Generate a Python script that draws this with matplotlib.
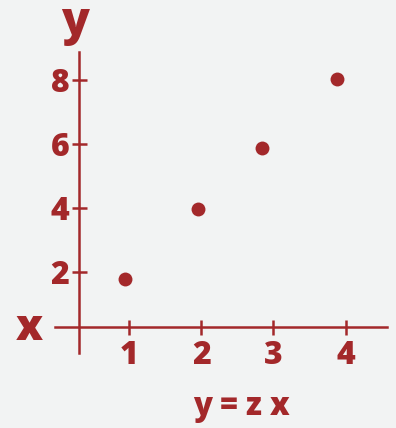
import matplotlib
matplotlib.use("Agg")
import matplotlib.pyplot as plt

# ---- data ----
x_vals = [0.95, 1.96, 2.84, 3.885]
y_vals = [1.79, 3.98, 5.88, 8.05]
x_ticks = [1, 2, 3, 4]
x_tick_labels = ["1", "2", "3", "4"]
y_ticks = [2, 4, 6, 8]
y_tick_labels = ["2", "4", "6", "8"]
x_label = "x"
y_label = "y"
caption = "y = z x"

RED = "#a3282a"
BG = "#f2f3f3"
W, H = 396, 428
WEIGHT = 800

plt.rcParams['font.family'] = ['Open Sans', 'DejaVu Sans']

fig = plt.figure(figsize=(W / 100, H / 100), dpi=100)
fig.patch.set_facecolor(BG)

# axes box in pixel coords
left_px, right_px, top_px, bottom_px = 55, 387, 52, 353
ax = fig.add_axes([left_px / W, 1 - bottom_px / H,
                   (right_px - left_px) / W, (bottom_px - top_px) / H])
ax.set_facecolor("none")

ax.scatter(x_vals, y_vals, s=100, color=RED, linewidths=0, zorder=3)

ax.set_xlim(-0.025, 4.573)
ax.set_ylim(-0.53, 8.89)

for side in ("top", "right"):
    ax.spines[side].set_visible(False)
ax.spines["left"].set_position(("data", 0.314))
ax.spines["bottom"].set_position(("data", 0.28))
for side in ("left", "bottom"):
    ax.spines[side].set_color(RED)
    ax.spines[side].set_linewidth(1.8)

ax.set_xticks(x_ticks)
ax.set_xticklabels(x_tick_labels)
ax.set_yticks(y_ticks)
ax.set_yticklabels(y_tick_labels)
ax.tick_params(axis="both", direction="inout", length=10.8, width=1.8,
               color=RED, labelcolor=RED, labelsize=23)
ax.tick_params(axis="x", pad=4)
ax.tick_params(axis="y", pad=2)
for lab in ax.get_xticklabels() + ax.get_yticklabels():
    lab.set_fontweight(WEIGHT)

fig.text(75 / W, 1.0, y_label, ha="center", va="top",
         fontsize=33, fontweight=WEIGHT, color=RED)
fig.text(29.5 / W, 1 - 340 / H, x_label, ha="center", va="baseline",
         fontsize=31, fontweight=WEIGHT, color=RED)
fig.text(241 / W, 1 - 415 / H, caption, ha="center", va="baseline",
         fontsize=22.5, fontweight=WEIGHT, color=RED)

fig.savefig("out.png", dpi=100, facecolor=BG)
